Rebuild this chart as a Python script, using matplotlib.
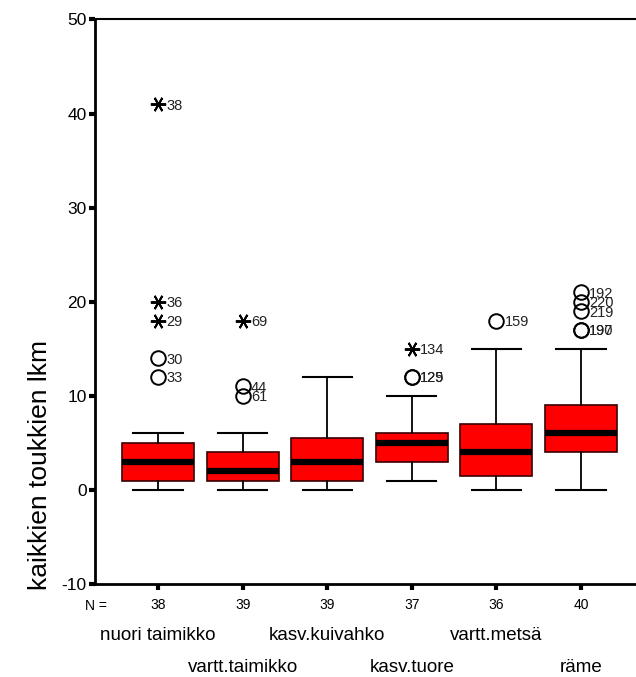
import matplotlib
matplotlib.use("Agg")
import numpy as np
from matplotlib import pyplot as plt
from matplotlib import transforms

plt.rcParams['font.family'] = ['Liberation Sans', 'DejaVu Sans']
plt.rcParams['axes.unicode_minus'] = False

# data
groups = ['nuori taimikko', 'vartt.taimikko', 'kasv.kuivahko',
          'kasv.tuore', 'vartt.metsä', 'räme']
n_counts = [38, 39, 39, 37, 36, 40]
whis_lo = [0, 0, 0, 1, 0, 0]
q1 = [1, 1, 1, 3, 1.5, 4]
medians = [3, 2, 3, 5, 4, 6]
q3 = [5, 4, 5.5, 6, 7, 9]
whis_hi = [6, 6, 12, 10, 15, 15]

# outliers (circles) and extremes (stars): group index, value, case label
out_group = [0, 0, 1, 1, 3, 3, 4, 5, 5, 5, 5, 5]
out_value = [14, 12, 11, 10, 12, 12, 18, 21, 20, 19, 17, 17]
out_label = ['30', '33', '44', '61', '129', '125', '159',
             '192', '220', '219', '197', '190']
ext_group = [0, 0, 0, 1, 3]
ext_value = [41, 20, 18, 18, 15]
ext_label = ['38', '36', '29', '69', '134']

positions = np.arange(1, len(groups) + 1)

fig = plt.figure(figsize=(6.36, 6.77), dpi=100)
ax = fig.add_axes([95 / 636, 93 / 677, 541 / 636, 564.5 / 677])

stats = []
for i in range(len(groups)):
    stats.append(dict(med=medians[i], q1=q1[i], q3=q3[i],
                      whislo=whis_lo[i], whishi=whis_hi[i], fliers=[]))

ax.bxp(stats, positions=positions, widths=0.85, patch_artist=True,
       showfliers=False,
       boxprops=dict(facecolor='#ff0000', edgecolor='#3a0000', linewidth=1.2),
       medianprops=dict(color='black', linewidth=4.5, solid_capstyle='butt'),
       whiskerprops=dict(color='black', linewidth=1.3),
       capprops=dict(color='black', linewidth=1.5),
       capwidths=0.58)

ox = positions[np.array(out_group)]
ax.plot(ox, out_value, 'o', ms=10.5, mfc='none', mec='black', mew=1.4,
        clip_on=False, zorder=5)
ex = positions[np.array(ext_group)]
ax.plot(ex, ext_value, marker=(6, 2, 90), ls='none', ms=11, mec='black',
        mew=1.4, clip_on=False, zorder=5)

off = transforms.offset_copy(ax.transData, fig=fig, x=6, y=-1, units='points')
for x, v, lab in zip(ox, out_value, out_label):
    ax.text(x, v, lab, transform=off, fontsize=10.5, va='center',
            ha='left', color='#222222')
for x, v, lab in zip(ex, ext_value, ext_label):
    ax.text(x, v, lab, transform=off, fontsize=10.5, va='center',
            ha='left', color='#222222')

ax.set_xlim(0.255, 6.65)
ax.set_ylim(-10, 50)
ax.set_yticks([-10, 0, 10, 20, 30, 40, 50])
ax.tick_params(axis='y', direction='out', length=4, width=3, labelsize=12.5,
               pad=2)
ax.set_xticks(positions)
ax.set_xticklabels([str(n) for n in n_counts], fontsize=10)
ax.tick_params(axis='x', direction='out', length=4, width=3, pad=6)

for s in ['left', 'bottom']:
    ax.spines[s].set_linewidth(2)
ax.spines['top'].set_linewidth(1.5)
ax.spines['right'].set_visible(False)

trans = transforms.blended_transform_factory(ax.transData, fig.transFigure)
fig.text(107 / 636, 1 - 606 / 677, 'N =', fontsize=10, ha='right',
         va='center')
for i, g in enumerate(groups):
    y = 1 - (636 if i % 2 == 0 else 667) / 677
    ax.text(positions[i], y, g, transform=trans, fontsize=13.5,
            ha='center', va='center')

fig.text(40 / 636, 1 - 465 / 677, 'kaikkien toukkien lkm', fontsize=19,
         rotation=90, ha='center', va='center')

fig.savefig('out.png', dpi=100)
